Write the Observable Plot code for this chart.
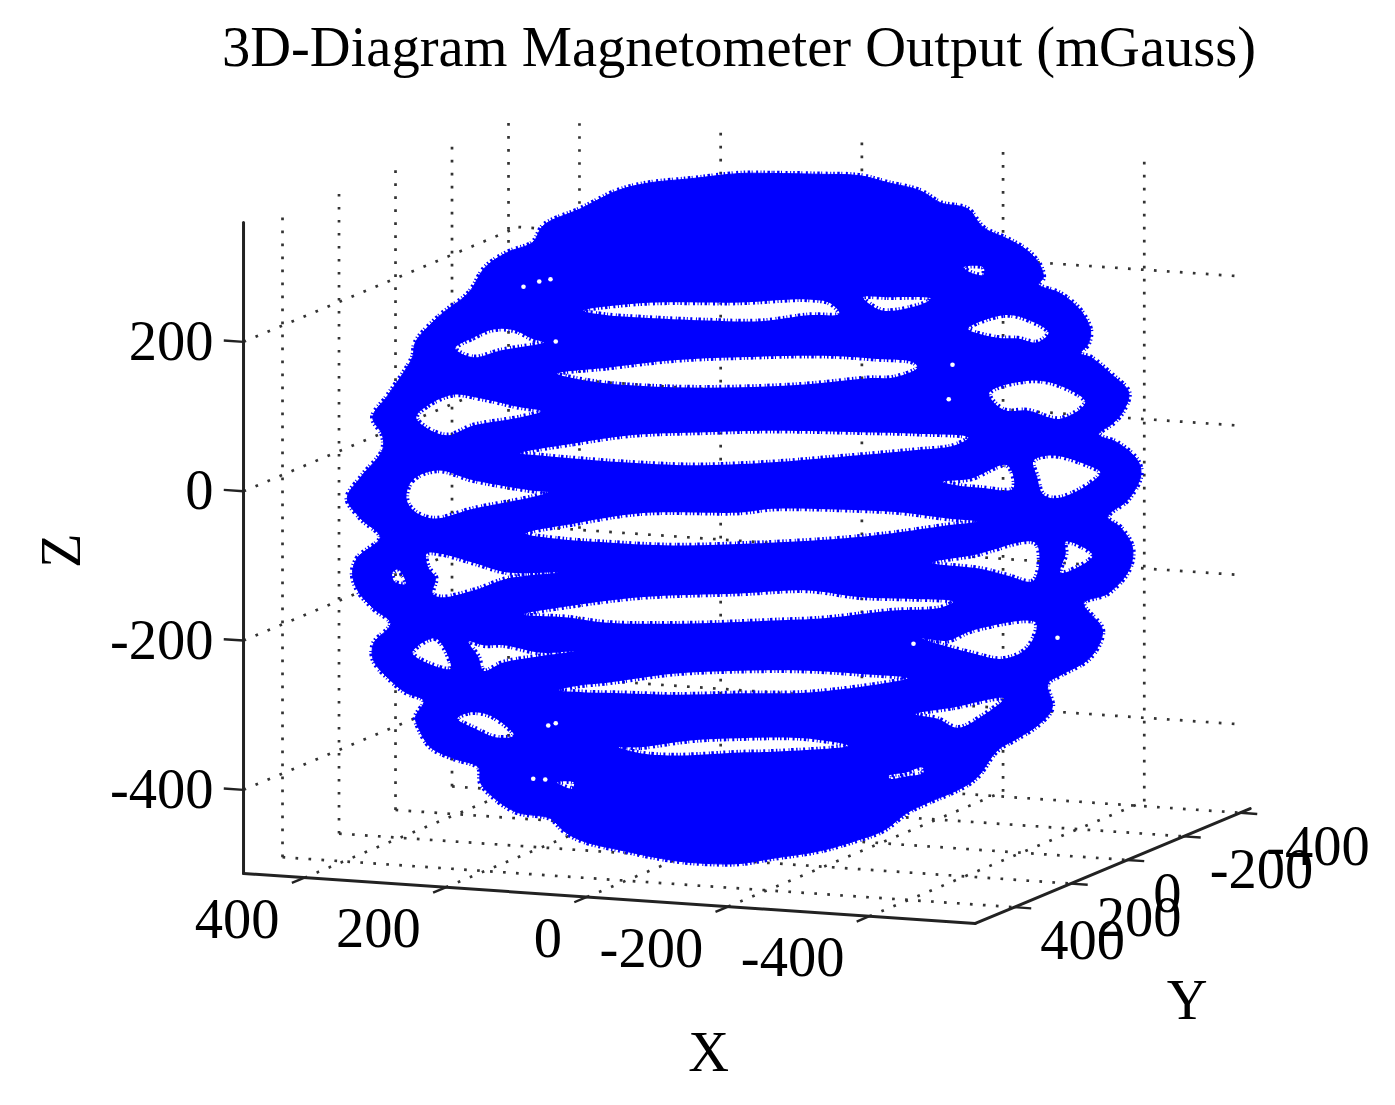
<!DOCTYPE html>
<html><head><meta charset="utf-8">
<script src="https://cdn.jsdelivr.net/npm/d3@7"></script>
<script src="https://cdn.jsdelivr.net/npm/@observablehq/plot@0.6"></script>
<style>
html,body{margin:0;padding:0;background:#fff}
#title{height:100px;width:1395px;box-sizing:border-box;padding-left:222px;padding-top:12px;font:56.5px "Liberation Serif",serif;color:#000;white-space:nowrap;line-height:70px;filter:blur(.6px)}
#chart svg{display:block;filter:blur(.6px)}
</style></head><body>
<div id="title">3D-Diagram Magnetometer Output (mGauss)</div>
<div id="chart"></div>
<script>
// Axis ticks (mGauss)
const xTicks = [400, 200, 0, -200, -400];
const yTicks = [400, 200, 0, -200, -400];
const zTicks = [200, 0, -200, -400];
// Box limits of the 3D axes (mGauss)
const xMax = 486.5, xMin = -550, yMax = 538, yMin = -435, zMin = -512, zMax = 347;

// Silhouette of the measured field, [horizontal view position, Z] in mGauss
const silhouette = [[-7,424],[37,424],[96,423],[153,421],[189,412],[233,401],[260,385],[296,377],[317,352],[349,337],[376,321],[393,301],[397,285],[391,276],[420,264],[447,241],[460,215],[457,197],[447,184],[460,179],[487,157],[511,132],[504,108],[491,92],[471,76],[496,65],[523,41],[527,21],[509,-12],[487,-28],[483,-35],[500,-48],[516,-75],[511,-105],[483,-136],[451,-149],[476,-185],[460,-221],[420,-245],[403,-256],[409,-288],[393,-309],[363,-329],[336,-345],[309,-381],[287,-396],[243,-415],[216,-428],[184,-452],[149,-465],[100,-479],[37,-489],[-7,-496],[-51,-496],[-96,-492],[-163,-479],[-220,-465],[-243,-452],[-260,-436],[-304,-428],[-331,-412],[-353,-389],[-356,-368],[-389,-356],[-420,-341],[-436,-315],[-440,-301],[-429,-279],[-453,-268],[-473,-252],[-496,-225],[-496,-203],[-473,-176],[-496,-156],[-517,-132],[-524,-108],[-517,-88],[-487,-61],[-513,-36],[-531,-9],[-513,19],[-484,55],[-484,75],[-497,99],[-477,128],[-444,179],[-440,199],[-407,235],[-369,265],[-347,299],[-317,319],[-284,332],[-269,355],[-220,377],[-171,401],[-131,411],[-73,417]];

// Central gaps between the coil turns
const gapA = [[-216,241],[-140,251],[-7,252],[83,256],[113,251],[125,237],[83,235],[20,227],[-51,228],[-140,232],[-184,235]];
const gapB = [[-251,157],[-184,165],[-96,175],[-7,179],[104,181],[171,177],[224,172],[229,165],[197,152],[163,151],[83,143],[-7,139],[-96,139],[-184,144],[-229,151]];
const gapC = [[-300,51],[-229,64],[-153,75],[-51,79],[37,81],[153,79],[229,77],[297,72],[277,61],[224,55],[100,44],[37,39],[-69,35],[-163,39],[-229,44],[-273,48]];
const gapD = [[-293,-56],[-229,-43],[-140,-29],[-7,-28],[37,-23],[153,-25],[207,-28],[269,-36],[309,-40],[269,-45],[193,-56],[123,-63],[16,-69],[-96,-72],[-184,-68],[-251,-63]];
const gapE = [[-296,-164],[-229,-152],[-140,-141],[-7,-136],[83,-132],[153,-141],[216,-143],[277,-147],[260,-155],[193,-159],[104,-169],[37,-172],[-73,-176],[-184,-175],[-237,-168]];
const gapF = [[-249,-265],[-223,-259],[-184,-255],[-96,-243],[-7,-239],[83,-239],[149,-243],[216,-249],[189,-255],[83,-268],[-7,-269],[-96,-271],[-163,-269],[-211,-268]];
const gapG = [[-169,-341],[-140,-341],[-73,-332],[-7,-329],[77,-329],[137,-339],[37,-347],[-7,-348],[-96,-352],[-140,-349]];
// Gaps on the left side
const leftA = [[-387,191],[-363,205],[-336,216],[-309,215],[-283,203],[-269,199],[-327,188],[-363,179]];
const leftB = [[-439,99],[-423,115],[-389,129],[-353,124],[-304,113],[-273,107],[-300,99],[-363,88],[-397,75],[-424,84]];
const leftC = [[-452,-9],[-444,15],[-411,28],[-363,15],[-283,1],[-263,-1],[-287,-8],[-363,-23],[-416,-36],[-443,-25]];
const leftD = [[-471,-109],[-463,-104],[-453,-123],[-467,-121]];
const leftE = [[-425,-83],[-407,-83],[-363,-95],[-317,-108],[-251,-108],[-317,-116],[-363,-132],[-407,-141],[-417,-136],[-413,-115],[-423,-101]];
const leftF = [[-444,-215],[-413,-196],[-393,-236],[-416,-232]];
const leftG = [[-369,-200],[-349,-205],[-323,-205],[-273,-215],[-229,-213],[-277,-220],[-323,-228],[-349,-239],[-356,-221]];
const leftH = [[-384,-303],[-369,-295],[-340,-299],[-309,-325],[-331,-328],[-363,-315]];
const leftI = [[-251,-388],[-229,-388],[-231,-396],[-247,-391]];
// Gaps on the right side
const rightA = [[291,299],[317,299],[317,289],[300,292]];
const rightB = [[157,259],[189,259],[247,257],[233,249],[184,241],[164,251]];
const rightC = [[297,217],[344,235],[371,231],[404,212],[389,199],[363,204],[336,205]];
const rightD = [[325,131],[384,148],[429,137],[453,119],[420,97],[376,108],[344,109]];
const rightE = [[263,13],[300,17],[349,35],[357,4],[313,5],[283,8]];
const rightF = [[384,41],[409,48],[456,35],[473,25],[443,1],[411,-9],[396,-3],[389,19]];
const rightG = [[249,-95],[304,-85],[387,-69],[384,-119],[349,-112],[313,-103]];
const rightH = [[427,-67],[463,-85],[443,-101],[420,-108],[427,-83]];
const rightI = [[236,-196],[269,-199],[304,-185],[387,-175],[376,-208],[344,-223],[300,-215]];
const rightJ = [[227,-297],[277,-288],[344,-276],[313,-301],[283,-315],[256,-303]];
const rightK = [[191,-379],[213,-375],[236,-368],[237,-375],[213,-380],[193,-383]];
// Pin-holes
const specks = [[-296,273],[-275,280],[-260,283],[-253,200],[-263,-312],[-253,-309],[276,169],[271,123],[416,-195],[224,-203],[-267,-384],[-283,-383]];

// Axis-label placements in the view plane
const axisNames = [
  {t:"X", h:-49, v:-748, r:0},
  {t:"Y", h:589, v:-679, r:0},
  {t:"Z", h:-911, v:-79, r:-90}
];

const rings = [gapA,gapB,gapC,gapD,gapE,gapF,gapG,leftA,leftB,leftC,leftD,leftE,leftF,leftG,leftH,leftI,rightA,rightB,rightC,rightD,rightE,rightF,rightG,rightH,rightI,rightJ,rightK];
const ringRows = rings.flatMap((r,i)=>r.map(([h,v])=>({id:i,h,v})));
const outlineRows = silhouette.map(([h,v])=>({h,v}));

// View projection of the 3D axes, calibrated on the axis box
function project(X,Y,Z){
  const px = 586.5 - 0.706*X + 0.2825*(yMax-Y);
  const py = 873 + (xMax-X)*0.0482 + (Y-yMax)*0.118 - (Z-zMin)*0.7467;
  return {h:(px-745)*4/3, v:(491-py)*4/3};
}
function seg(id,a,b){ return [{id,...project(...a)},{id,...project(...b)}]; }
const gridRows = [
  ...yTicks.flatMap(Y=>seg("wy"+Y,[xMax,Y,zMin],[xMax,Y,zMax])),
  ...xTicks.flatMap(X=>seg("wx"+X,[X,yMin,zMin],[X,yMin,zMax])),
  ...zTicks.flatMap(Z=>seg("lz"+Z,[xMax,yMax,Z],[xMax,yMin,Z])),
  ...zTicks.flatMap(Z=>seg("bz"+Z,[xMax,yMin,Z],[xMin+16,yMin,Z])),
  ...xTicks.flatMap(X=>seg("fx"+X,[X,yMax,zMin],[X,yMin,zMin])),
  ...yTicks.flatMap(Y=>seg("fy"+Y,[xMax,Y,zMin],[xMin,Y,zMin]))
];
const axisRows = [
  ...seg("z",[xMax,yMax,zMin],[xMax,yMax,360]),
  ...seg("x",[xMax,yMax,zMin],[xMin,yMax,zMin]),
  ...seg("y",[xMin,yMax,zMin],[xMin,yMin,zMin])
];
const tickRows = [
  ...zTicks.flatMap(Z=>seg("tz"+Z,[xMax,yMax,Z],[xMax+28,yMax,Z])),
  ...xTicks.flatMap(X=>seg("tx"+X,[X,yMax,zMin],[X,yMax+45,zMin])),
  ...yTicks.flatMap(Y=>seg("ty"+Y,[xMin,Y,zMin],[xMin-24,Y,zMin]))
];
const zLabels = zTicks.map(Z=>({t:String(Z),...project(xMax,yMax,Z)}));
const xLabels = xTicks.map(X=>({t:String(X),...project(X,yMax,zMin)}));
const yLabels = yTicks.map(Y=>({t:String(Y),...project(xMin,Y,zMin)}));

const font = {fontFamily:"Liberation Serif", fontSize:56.5, fill:"#000"};
const gridStyle = {x:"h",y:"v",z:"id",stroke:"#333",strokeWidth:2.7,strokeDasharray:"2.7 10.3",strokeLinecap:"butt"};
const blue = "#0000ff";
const fuzz = {curve:"catmull-rom-closed",stroke:blue,strokeWidth:5.5,strokeDasharray:"1.5 2.5 2.5 1.5 1 3.5 2 2.5 1 2",strokeLinecap:"butt"};

const chart = Plot.plot({
  width:1395, height:1005, margin:0,
  x:{domain:[-993.33,866.67],axis:null},
  y:{domain:[-818.67,521.33],axis:null},
  marks:[
    Plot.line(gridRows,gridStyle),
    Plot.line(axisRows,{x:"h",y:"v",z:"id",stroke:"#222",strokeWidth:3}),
    Plot.line(tickRows,{x:"h",y:"v",z:"id",stroke:"#222",strokeWidth:2.4,strokeLinecap:"butt"}),
    Plot.line(outlineRows,{x:"h",y:"v",curve:"catmull-rom-closed",fill:blue,stroke:blue,strokeWidth:1}),
    Plot.line(outlineRows,{x:"h",y:"v",...fuzz}),
    Plot.line(ringRows,{x:"h",y:"v",z:"id",curve:"catmull-rom-closed",fill:"#fff",stroke:"none"}),
    Plot.dot(specks,{x:d=>d[0],y:d=>d[1],r:2.3,fill:"#fff",stroke:"none"}),
    Plot.line(gridRows,gridStyle),
    Plot.line(ringRows,{x:"h",y:"v",z:"id",...fuzz}),
    Plot.text(zLabels,{x:"h",y:"v",text:"t",textAnchor:"end",dx:-30,dy:0,...font}),
    Plot.text(xLabels,{x:"h",y:"v",text:"t",textAnchor:"end",dx:-25,dy:42,...font}),
    Plot.text(yLabels,{x:"h",y:"v",text:"t",textAnchor:"start",dx:26,dy:34,...font}),
    Plot.text(axisNames,{x:"h",y:"v",text:"t",rotate:"r",...font})
  ]
});
document.getElementById("chart").appendChild(chart);

// The dotted grid shows through the gaps only on its second pass
const groups = [...chart.children].filter(n=>n.tagName.toLowerCase()==="g");
const NS = "http://www.w3.org/2000/svg";
const defs = document.createElementNS(NS,"defs");
const clip = document.createElementNS(NS,"clipPath");
clip.setAttribute("id","gapClip");
groups[5].querySelectorAll("path").forEach(p=>{
  const c = document.createElementNS(NS,"path");
  c.setAttribute("d",p.getAttribute("d"));
  const tr = p.getAttribute("transform") || groups[5].getAttribute("transform");
  if (tr) c.setAttribute("transform",tr);
  clip.appendChild(c);
});
defs.appendChild(clip);
chart.insertBefore(defs,chart.firstChild);
groups[7].setAttribute("clip-path","url(#gapClip)");
</script>
</body></html>
